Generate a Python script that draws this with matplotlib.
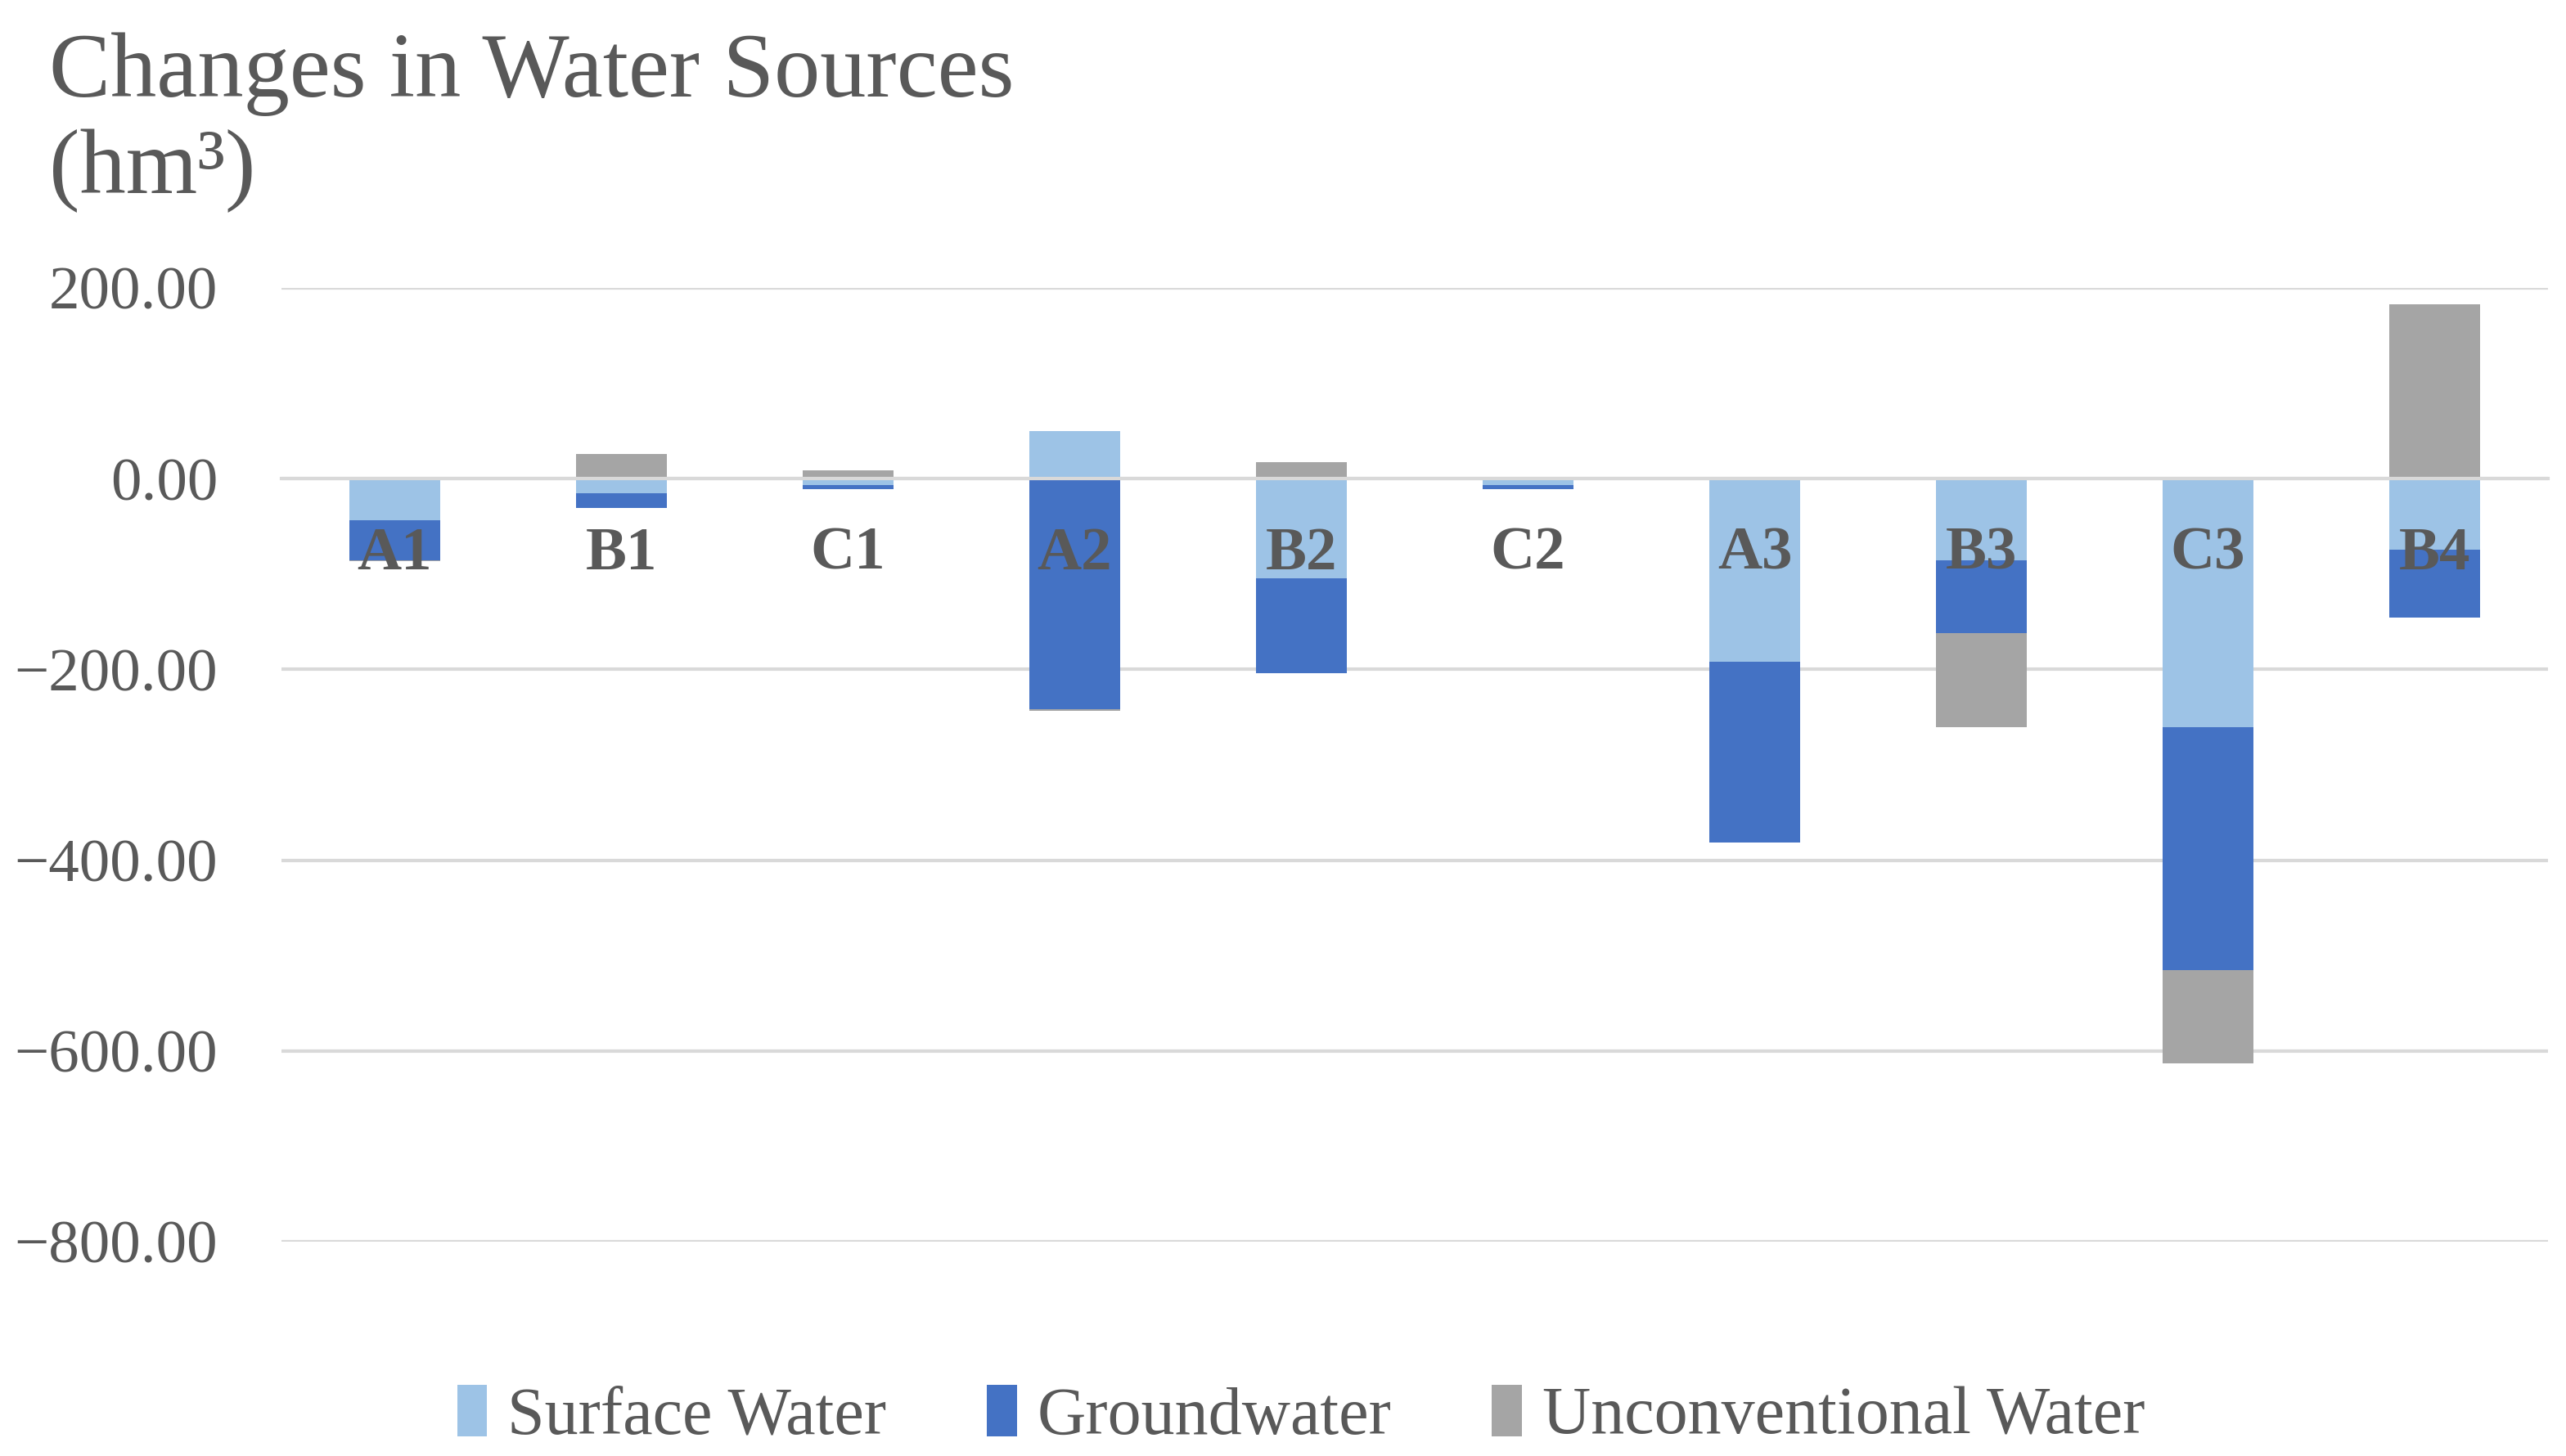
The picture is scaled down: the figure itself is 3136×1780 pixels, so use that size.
import matplotlib.pyplot as plt
import numpy as np
from matplotlib.ticker import FuncFormatter

# data (hm3)
regions = ["A1", "B1", "C1", "A2", "B2", "C2", "A3", "B3", "C3", "B4"]
surface = [-43.6, -15.5, -7.0, 50.0, -104.4, -7.0, -191.6, -85.5, -260.8, -74.5]
ground = [-41.6, -15.2, -4.0, -241.6, -99.9, -4.0, -189.6, -76.7, -254.8, -71.2]
unconv = [-1.0, 25.8, 8.6, -1.5, 17.2, 1.0, 1.5, -98.1, -97.5, 183.0]

series = [("Surface Water", surface, "#9DC3E6"),
          ("Groundwater", ground, "#4472C4"),
          ("Unconventional Water", unconv, "#A5A5A5")]

txt = "#595959"
grid = "#D9D9D9"
plt.rcParams['font.family'] = ['Liberation Serif', 'DejaVu Serif']

fig = plt.figure(figsize=(15.68, 8.9), dpi=200)
ax = fig.add_axes([0.1097, 0.1472, 0.8833, 0.655])

x = np.arange(len(regions))
pos = np.zeros(len(regions))
neg = np.zeros(len(regions))
for name, vals, col in series:
    v = np.array(vals)
    base = np.where(v >= 0, pos, neg)
    ax.bar(x, v, 0.4, bottom=base, color=col, label=name, zorder=1)
    pos = pos + np.where(v >= 0, v, 0)
    neg = neg + np.where(v < 0, v, 0)

ax.set_xlim(-0.5, len(regions) - 0.5)
ax.set_ylim(-800, 200)
ax.set_yticks(np.arange(-800, 201, 200))
ax.yaxis.set_major_formatter(FuncFormatter(lambda v, p: f"{v:.2f}".replace("-", "\u2212")))
ax.grid(axis="y", color=grid, linewidth=1.5)
ax.set_axisbelow(True)
ax.xaxis.set_zorder(3)

for s in ["top", "right", "left"]:
    ax.spines[s].set_visible(False)
ax.spines["bottom"].set_position(("data", 0))
ax.spines["bottom"].set_color(grid)
ax.spines["bottom"].set_linewidth(1.5)
ax.spines["bottom"].set_zorder(2.5)

ax.set_xticks(x)
ax.set_xticklabels(regions, fontweight="bold")
ax.tick_params(axis="x", length=0, pad=21, labelsize=27, labelcolor=txt)
ax.tick_params(axis="y", length=0, pad=28, labelsize=27, labelcolor=txt)

fig.text(0.019, 0.978, "Changes in Water Sources\n(hm\u00b3)", ha="left", va="top",
         fontsize=40.5, color=txt, linespacing=1.2)

leg = fig.legend(loc="center", bbox_to_anchor=(0.507, 0.027), ncol=3, frameon=False,
                 fontsize=29.5, handlelength=0.45, handleheight=0.8, handletextpad=0.3,
                 columnspacing=1.5, labelcolor=txt)

plt.savefig("out.png")
